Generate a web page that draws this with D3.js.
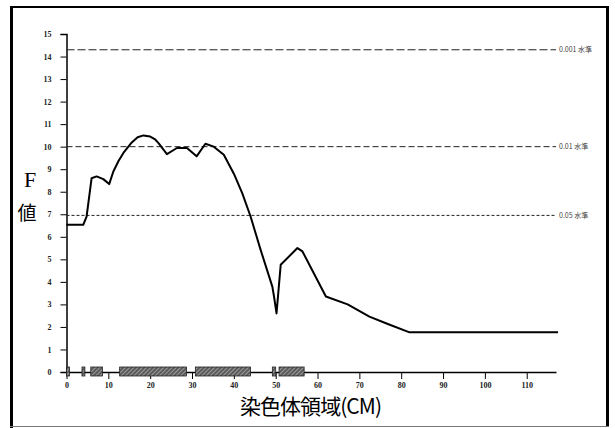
<!DOCTYPE html>
<html>
<head>
<meta charset="utf-8">
<script src="https://cdn.jsdelivr.net/npm/d3@7"></script>
<style>
  body { margin: 0; background: #fff; }
  text { font-family: "Liberation Serif", "Noto Sans CJK JP", serif; }
</style>
</head>
<body>
<div class="fChart"></div>
<script>
let width = 615
let height = 428

// QTL curve: position (cM) and F value
const positions = [0, 4.0, 4.8, 6.0, 7.2, 8.8, 10.2, 11.2, 12.4, 13.6, 15.6, 17.0, 18.4, 20.0, 21.2, 22.0, 24.0, 26.4, 28.8, 31.1, 33.2, 35.2, 37.6, 40.0, 42.0, 44.0, 46.4, 49.2, 49.6, 50.2, 51.2, 55.2, 56.4, 62.0, 67.2, 72.4, 76.8, 82.0, 117.5]
const fValues = [6.53, 6.53, 6.9, 8.6, 8.68, 8.56, 8.34, 8.9, 9.35, 9.72, 10.19, 10.42, 10.5, 10.45, 10.32, 10.16, 9.67, 9.94, 9.94, 9.57, 10.13, 10.0, 9.64, 8.8, 7.94, 6.9, 5.42, 3.79, 3.35, 2.6, 4.76, 5.5, 5.35, 3.35, 3.0, 2.46, 2.13, 1.76, 1.76]

// significance thresholds
const thresholdValues = [14.3, 10.0, 6.95]
const thresholdLabels = ["0.001 水準", "0.01 水準", "0.05 水準"]
const thresholdDash = ["8,3", "6,3", "3,2"]

// marker regions along the chromosome (start, end in cM)
const markerStart = [0, 3.7, 5.8, 12.7, 30.8, 49.2, 50.8]
const markerEnd = [0.7, 4.4, 8.6, 28.7, 44.0, 50.0, 56.8]

const xTicks = [0, 10, 20, 30, 40, 50, 60, 70, 80, 90, 100, 110]
const yTicks = d3.range(0, 16)

const svg = d3.select(".fChart")
  .append("svg")
  .attr("width", width)
  .attr("height", height)

// hatch for the marker blocks
const pat = svg.append("defs").append("pattern")
  .attr("id", "hatch")
  .attr("width", 3)
  .attr("height", 3)
  .attr("patternUnits", "userSpaceOnUse")
  .attr("patternTransform", "rotate(45)")
pat.append("rect").attr("width", 3).attr("height", 3).attr("fill", "#5a5a5a")
pat.append("line").attr("x1", 0).attr("x2", 0).attr("y1", 0).attr("y2", 3)
  .attr("stroke", "#c8c8c8").attr("stroke-width", 1.2)

// scanned page frame
svg.append("line").attr("x1", 11.5).attr("x2", 11.5).attr("y1", 6).attr("y2", 428)
  .attr("stroke", "#000").attr("stroke-width", 3)
svg.append("line").attr("x1", 10).attr("x2", 609).attr("y1", 7).attr("y2", 7)
  .attr("stroke", "#000").attr("stroke-width", 2)
svg.append("line").attr("x1", 607.5).attr("x2", 607.5).attr("y1", 6).attr("y2", 426)
  .attr("stroke", "#000").attr("stroke-width", 3)
svg.append("line").attr("x1", 10).attr("x2", 609).attr("y1", 426.5).attr("y2", 426.5)
  .attr("stroke", "#777").attr("stroke-width", 1)

const x = d3.scaleLinear()
  .domain([0, 117])
  .range([66.5, 556])
const y = d3.scaleLinear()
  .domain([0, 15])
  .range([372, 34])

// y axis
const yAxis = svg.append("g")
  .attr("transform", `translate(${x(0)},0)`)
  .call(d3.axisLeft(y).tickValues(yTicks).tickSize(6).tickPadding(9))
yAxis.select(".domain").attr("stroke-width", 1.5)
yAxis.selectAll("text").attr("font-size", 8).attr("font-weight", "bold").attr("fill", "#222")

// x axis
const xAxis = svg.append("g")
  .attr("transform", `translate(0,${y(0)})`)
  .call(d3.axisBottom(x).tickValues(xTicks).tickSize(7).tickPadding(3).tickSizeOuter(0))
xAxis.select(".domain").attr("stroke-width", 1.5)
xAxis.selectAll("text").attr("font-size", 8).attr("font-weight", "bold").attr("fill", "#222")

// threshold lines
const th = svg.selectAll("thresholds")
  .data(thresholdValues)
  .enter()
  .append("g")
th.append("line")
  .attr("x1", x(0))
  .attr("x2", x(117))
  .attr("y1", d => y(d))
  .attr("y2", d => y(d))
  .attr("stroke", "#222")
  .attr("stroke-width", 1)
  .attr("stroke-dasharray", (d, i) => thresholdDash[i])
th.append("text")
  .attr("x", x(117) + 3)
  .attr("y", d => y(d) + 2.5)
  .attr("font-size", 7)
  .attr("fill", "#444")
  .style("font-family", "'Noto Sans CJK JP', sans-serif")
  .text((d, i) => thresholdLabels[i])

// marker blocks on the axis
svg.selectAll("markerBlocks")
  .data(markerStart)
  .enter()
  .append("rect")
  .attr("x", (d, i) => x(d))
  .attr("width", (d, i) => x(markerEnd[i]) - x(d))
  .attr("y", y(0) - 5)
  .attr("height", 9)
  .attr("fill", "url(#hatch)")
  .attr("stroke", "#222")
  .attr("stroke-width", 0.8)

// F value curve
const line = d3.line()
  .x((d, i) => x(positions[i]))
  .y(d => y(d))
svg.append("path")
  .datum(fValues)
  .attr("d", line)
  .attr("fill", "none")
  .attr("stroke", "#000")
  .attr("stroke-width", 2)
  .attr("stroke-linejoin", "round")

// axis titles
svg.append("text")
  .attr("x", 30)
  .attr("y", 187)
  .attr("text-anchor", "middle")
  .attr("font-size", 22)
  .text("F")
svg.append("text")
  .attr("x", 27)
  .attr("y", 220)
  .attr("text-anchor", "middle")
  .attr("font-size", 19)
  .style("font-family", "'Noto Sans CJK JP', sans-serif")
  .text("値")
svg.append("text")
  .attr("x", 311)
  .attr("y", 414)
  .attr("text-anchor", "middle")
  .attr("font-size", 21)
  .attr("textLength", 142)
  .style("font-family", "'Noto Sans CJK JP', sans-serif")
  .text("染色体領域(CM)")
</script>
</body>
</html>
